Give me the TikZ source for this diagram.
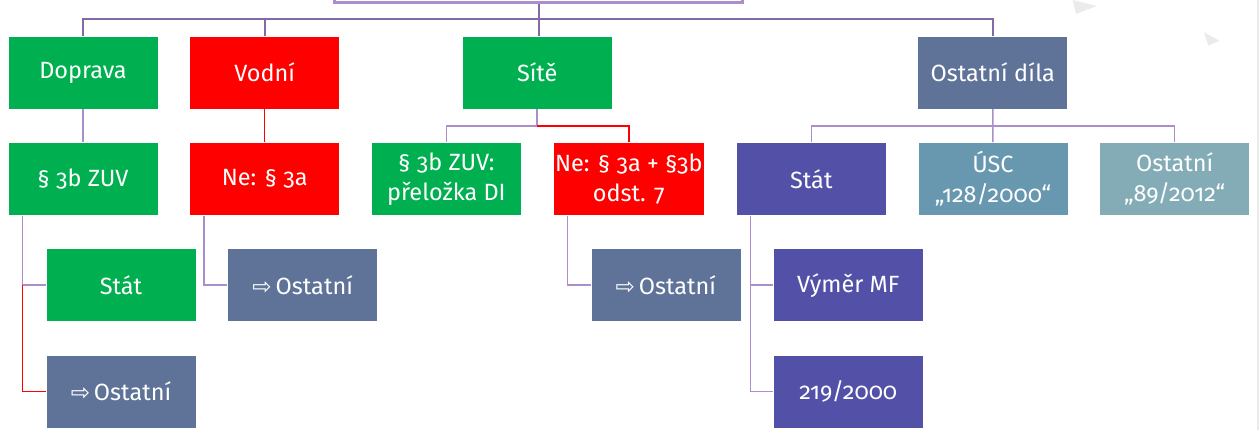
\documentclass[tikz,border=0pt]{standalone}
\usepackage{fontspec}
\setmainfont[Numbers=OldStyle]{Fira Sans}
\newfontfamily\arrowfont{DejaVu Sans}
\usetikzlibrary{positioning}
\definecolor{zelena}{HTML}{00B050}
\definecolor{cervena}{HTML}{FF0000}
\definecolor{sediva}{HTML}{5F7399}
\definecolor{stat}{HTML}{5350A8}
\definecolor{usc}{HTML}{6897B0}
\definecolor{ostatni}{HTML}{84ACB6}
\definecolor{fialova}{HTML}{8468A8}
\definecolor{levandule}{HTML}{AC8ECC}
\definecolor{svetla}{HTML}{EBEBEB}
\newcommand{\sipka}{{\arrowfont\fontsize{23}{26}\selectfont ⇨}\,}

\begin{document}
\begin{tikzpicture}
  [
    x=1pt, y=-1pt,
    node distance=32.8pt and 31.2pt,
    box/.style={rectangle, minimum width=150pt, minimum height=73pt, inner sep=2pt,
      draw=white, line width=0.5pt, text=white, align=center,
      font=\fontsize{23.5}{30}\selectfont},
    green node/.style={box, fill=zelena},
    red node/.style={box, fill=cervena},
    grey node/.style={box, fill=sediva},
    state node/.style={box, fill=stat},
    usc node/.style={box, fill=usc},
    other node/.style={box, fill=ostatni},
    root node/.style={rectangle, minimum width=408pt, minimum height=74pt, draw=levandule, line width=3pt, fill=white},
    dark line/.style={draw=fialova, line width=2pt},
    line/.style={draw=levandule, line width=1.5pt},
    red line/.style={draw=cervena, line width=1.5pt}
    ]

  \clip (0,0) rectangle (1259,430);
  \useasboundingbox (0,0) rectangle (1259,430);
  \fill[svetla] (1072.7,0) -- (1096.7,6) -- (1076,14) -- cycle;
  \fill[svetla] (1204,32.3) -- (1219.3,40.7) -- (1208.3,45.7) -- cycle;
  \fill[svetla] (1257,0) rectangle (1259,430);

  \node[root node] (0) at (538.5,-34.5) {};

  \node[green node] (1) at (83,72.5) {Doprava};
  \node[red node] (2) [right=of 1] {Vodní};
  \node[green node] (3) [right=122pt of 2] {Sítě};
  \node[grey node] (4) [right=305pt of 3] {Ostatní díla};

  \node[green node] (5) [below=of 1] {§ 3b ZUV};
  \node[red node] (6) [below=of 2] {Ne: § 3a};
  \node[green node] (7) [right=of 6] {§ 3b ZUV:\\přeložka DI};
  \node[red node] (8) [right=of 7] {Ne: § 3a + §3b\\odst. 7};
  \node[state node] (9) [right=of 8] {Stát};
  \node[usc node] (10) [right=of 9] {ÚSC\\„128/2000“};
  \node[other node] (11) [right=of 10] {Ostatní\\„89/2012“};

  \node[green node] (12) [below=of 5, xshift=38pt] {Stát};
  \node[grey node] (13) [below=of 6, xshift=38pt] {\sipka Ostatní};
  \node[grey node] (14) [below=of 8, xshift=37pt] {\sipka Ostatní};
  \node[state node] (15) [below=of 9, xshift=37pt] {Výměr MF};
  \node[grey node] (16) [below=of 12] {\sipka Ostatní};
  \node[state node] (17) [below=of 15] {219/2000};

  \coordinate (bar) at (0,19.5);
  \coordinate (pas) at (0,126);
  \coordinate (a5) at ([xshift=14.5pt]5.south west);
  \coordinate (a6) at ([xshift=14.5pt]6.south west);
  \coordinate (a8) at ([xshift=14.5pt]8.south west);
  \coordinate (a9) at ([xshift=14.5pt]9.south west);

  \draw[dark line] (0) -- (0 |- 3.north);
  \draw[dark line] (1) |- (bar -| 4) -- (4);
  \draw[dark line] (2) -- (2 |- bar);

  \draw[line] (1) -- (5);
  \draw[red line] (2) -- (6);
  \draw[line] (3) -- (3 |- pas) -| (7);
  \draw[red line] (3 |- pas) -| (8);
  \draw[line] (4) -- (10);
  \draw[line] (4 |- pas) -| (9);
  \draw[line] (4 |- pas) -| (11);

  \draw[line] (a5) |- (12);
  \draw[red line] (a5 |- 12) |- (16);
  \draw[line] (a6) |- (13);
  \draw[line] (a8) |- (14);
  \draw[line] (a9) |- (15);
  \draw[line] (a9) |- (17);
\end{tikzpicture}
\end{document}
